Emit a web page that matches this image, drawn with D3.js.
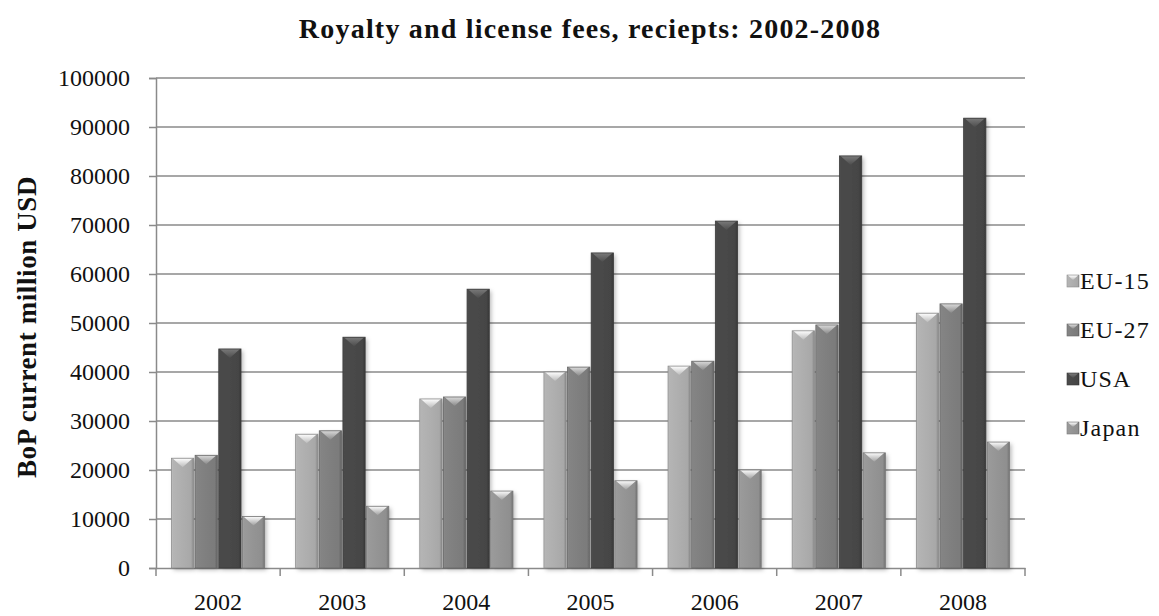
<!DOCTYPE html>
<html>
<head>
<meta charset="utf-8">
<script src="https://cdn.jsdelivr.net/npm/d3@7"></script>
<style>
  html, body { margin: 0; padding: 0; background: #fff; }
  svg { display: block; }
  text { font-family: "Liberation Serif", "Times New Roman", serif; fill: #111; }
</style>
</head>
<body>
<svg id="chart" width="1159" height="616"></svg>
<script>
const years = ["2002", "2003", "2004", "2005", "2006", "2007", "2008"];
const seriesNames = ["EU-15", "EU-27", "USA", "Japan"];
const eu15  = [22400, 27300, 34500, 40000, 41200, 48400, 52000];
const eu27  = [23000, 28000, 34900, 41000, 42200, 49600, 53900];
const usa   = [44700, 47100, 56900, 64300, 70800, 84100, 91800];
const japan = [10500, 12600, 15700, 17800, 20000, 23500, 25700];
const yTicks = [0, 10000, 20000, 30000, 40000, 50000, 60000, 70000, 80000, 90000, 100000];
const seriesColors = ["#a8a8a8", "#7b7b7b", "#454545", "#8f8f8f"];

const seriesValues = [eu15, eu27, usa, japan];
const data = years.map((y, i) => ({
  year: y,
  values: seriesNames.map((s, j) => ({ key: s, idx: j, value: seriesValues[j][i] }))
}));

const svg = d3.select("#chart");
const plot = { left: 156, right: 1025, top: 78, bottom: 568 };

const x0 = d3.scaleBand().domain(years).range([plot.left, plot.right]).padding(0);
const x1 = d3.scaleBand().domain(seriesNames)
  .range([15.5, x0.bandwidth() - 15.5]).paddingInner(0.06).paddingOuter(0);
const y = d3.scaleLinear().domain([0, 100000]).range([plot.bottom, plot.top]);

const defs = svg.append("defs");
const f = defs.append("filter").attr("id", "shadow")
  .attr("x", "-30%").attr("y", "-10%").attr("width", "160%").attr("height", "130%");
f.append("feDropShadow").attr("dx", 2).attr("dy", 2).attr("stdDeviation", 2.2)
  .attr("flood-color", "#000").attr("flood-opacity", 0.28);

seriesColors.forEach((c, j) => {
  const base = d3.color(c);
  const g = defs.append("linearGradient").attr("id", "body" + j)
    .attr("x1", "0%").attr("x2", "100%").attr("y1", "0%").attr("y2", "0%");
  g.append("stop").attr("offset", "0%").attr("stop-color", base.brighter(0.35));
  g.append("stop").attr("offset", "8%").attr("stop-color", base.brighter(0.2));
  g.append("stop").attr("offset", "50%").attr("stop-color", base.brighter(0.1));
  g.append("stop").attr("offset", "88%").attr("stop-color", base);
  g.append("stop").attr("offset", "100%").attr("stop-color", base.darker(0.6));
  const t = defs.append("linearGradient").attr("id", "cap" + j)
    .attr("x1", "0%").attr("x2", "0%").attr("y1", "0%").attr("y2", "100%");
  t.append("stop").attr("offset", "0%").attr("stop-color", base.brighter(1.6));
  t.append("stop").attr("offset", "100%").attr("stop-color", base.brighter(0.3));
});

// gridlines
svg.append("g")
  .selectAll("line").data(yTicks.slice(1)).join("line")
  .attr("x1", plot.left).attr("x2", plot.right)
  .attr("y1", d => y(d)).attr("y2", d => y(d))
  .attr("stroke", "#8a8a8a").attr("stroke-width", 1.5);

// y axis
const yAxis = svg.append("g").attr("transform", `translate(${plot.left},0)`)
  .call(d3.axisLeft(y).tickValues(yTicks).tickSize(7).tickPadding(19).tickFormat(d3.format("d")));
yAxis.select(".domain").attr("stroke", "#8a8a8a").attr("stroke-width", 1.5);
yAxis.selectAll(".tick line").attr("stroke", "#8a8a8a").attr("stroke-width", 1.5);
yAxis.selectAll("text").attr("font-size", 24).attr("font-family", "Liberation Serif").attr("fill", "#111");

// x axis
const xAxis = svg.append("g").attr("transform", `translate(0,${plot.bottom})`)
  .call(d3.axisBottom(x0).tickSize(0).tickPadding(25));
xAxis.select(".domain").attr("stroke", "#8a8a8a").attr("stroke-width", 1.5);
xAxis.selectAll("text").attr("font-size", 24).attr("font-family", "Liberation Serif").attr("fill", "#111");
// category boundary tick marks
svg.append("g").selectAll("line")
  .data(years.map(d => x0(d)).concat([x0(years[years.length - 1]) + x0.bandwidth()]))
  .join("line")
  .attr("x1", d => d).attr("x2", d => d)
  .attr("y1", plot.bottom).attr("y2", plot.bottom + 8)
  .attr("stroke", "#8a8a8a").attr("stroke-width", 1.5);

// bars
const groups = svg.append("g").selectAll("g").data(data).join("g")
  .attr("transform", d => `translate(${x0(d.year)},0)`);
const bars = groups.selectAll("g").data(d => d.values).join("g");
bars.append("rect")
  .attr("x", d => x1(d.key)).attr("width", x1.bandwidth())
  .attr("y", d => y(d.value)).attr("height", d => y(0) - y(d.value))
  .attr("fill", d => `url(#body${d.idx})`)
  .attr("filter", "url(#shadow)");
bars.append("path")
  .attr("d", d => {
    const xl = x1(d.key), w = x1.bandwidth(), yt = y(d.value);
    return `M${xl + 1},${yt} L${xl + w - 1},${yt} L${xl + w / 2},${yt + 9} Z`;
  })
  .attr("fill", d => `url(#cap${d.idx})`);
bars.append("rect")
  .attr("x", d => x1(d.key)).attr("width", x1.bandwidth())
  .attr("y", d => y(d.value)).attr("height", d => y(0) - y(d.value))
  .attr("fill", "none").attr("stroke", d => d3.color(seriesColors[d.idx]).darker(0.5))
  .attr("stroke-width", 0.8);

// title
svg.append("text")
  .attr("x", 590).attr("y", 38).attr("text-anchor", "middle")
  .attr("font-size", 28).attr("font-weight", "bold").attr("letter-spacing", 1.2)
  .text("Royalty and license fees, reciepts: 2002-2008");

// y axis title
svg.append("text")
  .attr("transform", `translate(36,${(plot.top + plot.bottom) / 2 + 4}) rotate(-90)`)
  .attr("text-anchor", "middle")
  .attr("font-size", 27).attr("font-weight", "bold").attr("letter-spacing", 0.6)
  .text("BoP current million USD");

// legend
const legend = svg.append("g").attr("transform", "translate(1067,275)");
const li = legend.selectAll("g").data(seriesNames).join("g")
  .attr("transform", (d, i) => `translate(0,${i * 49})`);
li.append("rect").attr("width", 12).attr("height", 12)
  .attr("fill", (d, i) => `url(#body${i})`)
  .attr("stroke", (d, i) => d3.color(seriesColors[i]).darker(0.5)).attr("stroke-width", 0.6);
li.append("path").attr("d", "M1,0.5 L11,0.5 L6,5 Z")
  .attr("fill", (d, i) => `url(#cap${i})`);
li.append("text").attr("x", 13).attr("y", 14).attr("font-size", 24).attr("letter-spacing", 1.2).text(d => d);
</script>
</body>
</html>
